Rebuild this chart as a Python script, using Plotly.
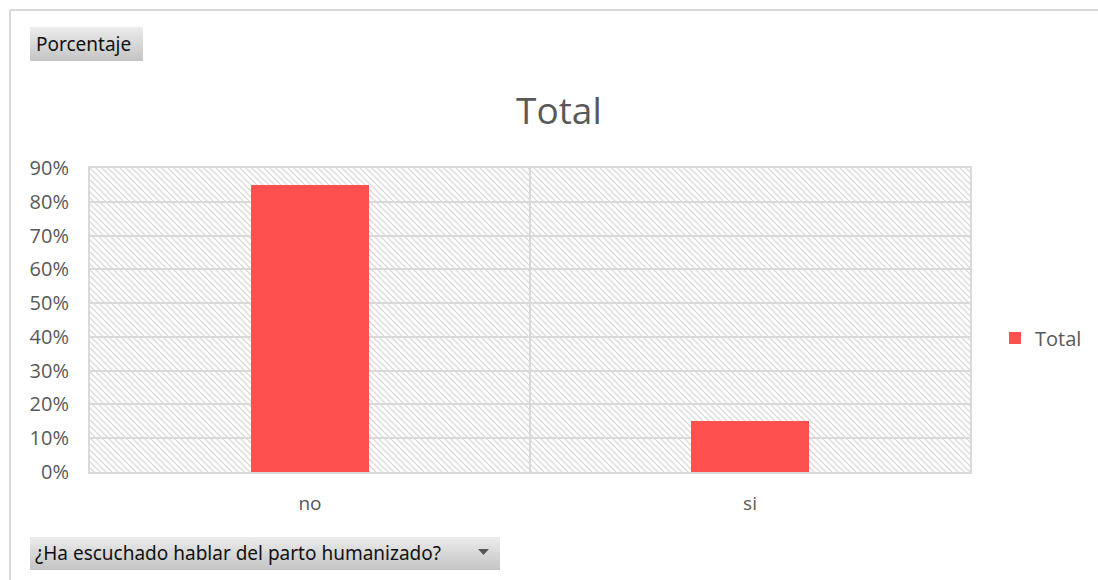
import base64
import plotly.graph_objects as go

categories = ["no", "si"]
values = [0.85, 0.15]
series_name = "Total"
y_ticks = [0, 0.1, 0.2, 0.3, 0.4, 0.5, 0.6, 0.7, 0.8, 0.9]
y_tick_labels = ["0%", "10%", "20%", "30%", "40%", "50%", "60%", "70%", "80%", "90%"]

L, R, T, B = 90, 970, 168, 472
W, H = 1098, 580
PW, PH = R - L, B - T

def px(x):
    return (x - L) / PW

def py(y):
    return (B - y) / PH

def svg_uri(svg):
    return "data:image/svg+xml;base64," + base64.b64encode(svg.encode()).decode()

hatch_svg = f'''<svg xmlns="http://www.w3.org/2000/svg" width="{PW}" height="{PH}" viewBox="0 0 {PW} {PH}" preserveAspectRatio="none">
<defs><pattern id="p" width="6" height="6" patternUnits="userSpaceOnUse">
<path d="M-1,-1 L7,7 M-1,5 L1,7 M5,-1 L7,1" stroke="#dadada" stroke-width="1.3"/></pattern></defs>
<rect width="{PW}" height="{PH}" fill="white"/><rect width="{PW}" height="{PH}" fill="url(#p)"/></svg>'''

def btn_svg(w, h):
    return f'''<svg xmlns="http://www.w3.org/2000/svg" width="{w}" height="{h}" viewBox="0 0 {w} {h}" preserveAspectRatio="none">
<defs><linearGradient id="g" x1="0" y1="0" x2="0" y2="1">
<stop offset="0" stop-color="#ececec"/><stop offset="1" stop-color="#c4c4c4"/></linearGradient></defs>
<rect width="{w}" height="{h}" fill="url(#g)"/></svg>'''

fig = go.Figure()
fig.add_trace(go.Bar(
    x=categories, y=values, name=series_name, width=0.27,
    marker=dict(color="#FF5050", line=dict(width=0)),
    showlegend=True,
))

font = "Open Sans"
images = [
    dict(source=svg_uri(hatch_svg), xref="paper", yref="paper", x=0, y=1,
         sizex=1, sizey=1, sizing="stretch", layer="below", xanchor="left", yanchor="top"),
    dict(source=svg_uri(btn_svg(113, 34)), xref="paper", yref="paper", x=px(30), y=py(27),
         sizex=px(143) - px(30), sizey=py(27) - py(61), sizing="stretch", layer="above",
         xanchor="left", yanchor="top"),
    dict(source=svg_uri(btn_svg(470, 33)), xref="paper", yref="paper", x=px(30), y=py(537),
         sizex=px(500) - px(30), sizey=py(537) - py(570), sizing="stretch", layer="above",
         xanchor="left", yanchor="top"),
]

shapes = [
    dict(type="line", xref="paper", yref="paper", x0=px(10), x1=px(1098), y0=py(10), y1=py(10),
         line=dict(color="#d9d9d9", width=2)),
    dict(type="line", xref="paper", yref="paper", x0=px(10), x1=px(10), y0=py(10), y1=py(580),
         line=dict(color="#d9d9d9", width=2)),
    dict(type="path", xref="paper", yref="paper",
         path=f"M {px(478)},{py(549)} L {px(489)},{py(549)} L {px(483.5)},{py(555)} Z",
         fillcolor="#555555", line=dict(width=0)),
]

annotations = [
    dict(text="Total", xref="paper", yref="paper", x=px(559), y=py(110), showarrow=False,
         font=dict(family=font, size=37, color="#595959"), xanchor="center", yanchor="middle"),
    dict(text="Porcentaje", xref="paper", yref="paper", x=px(34), y=py(44), showarrow=False,
         font=dict(family="Noto Sans", size=19, color="#111111"), xanchor="left", yanchor="middle"),
    dict(text="¿Ha escuchado hablar del parto humanizado?", xref="paper", yref="paper",
         x=px(33), y=py(553), showarrow=False,
         font=dict(family="Noto Sans", size=19, color="#111111"), xanchor="left", yanchor="middle"),
]

fig.update_layout(
    width=W, height=H,
    margin=dict(l=L, r=W - R, t=T, b=H - B, autoexpand=False),
    paper_bgcolor="white", plot_bgcolor="rgba(0,0,0,0)",
    font=dict(family=font, size=20, color="#595959"),
    images=images, shapes=shapes, annotations=annotations,
    bargap=0,
    legend=dict(x=px(995), y=py(338), xanchor="left", yanchor="middle",
                font=dict(family=font, size=20, color="#595959"),
                itemwidth=30, itemsizing="constant", bgcolor="rgba(0,0,0,0)"),
    xaxis=dict(tickson="boundaries", showgrid=True, gridcolor="#d9d9d9", gridwidth=2,
               showline=True, linecolor="#d9d9d9", linewidth=2, mirror=True,
               ticks="", tickfont=dict(size=19, color="#595959"), ticklabelstandoff=13),
    yaxis=dict(range=[0, 0.9], tickvals=y_ticks, ticktext=y_tick_labels,
               showgrid=True, gridcolor="#d9d9d9", gridwidth=2, zeroline=False,
               showline=True, linecolor="#d9d9d9", linewidth=2, mirror=True,
               ticks="", tickfont=dict(size=20, color="#595959"), ticklabelstandoff=15),
)

fig.write_html("out.html")
